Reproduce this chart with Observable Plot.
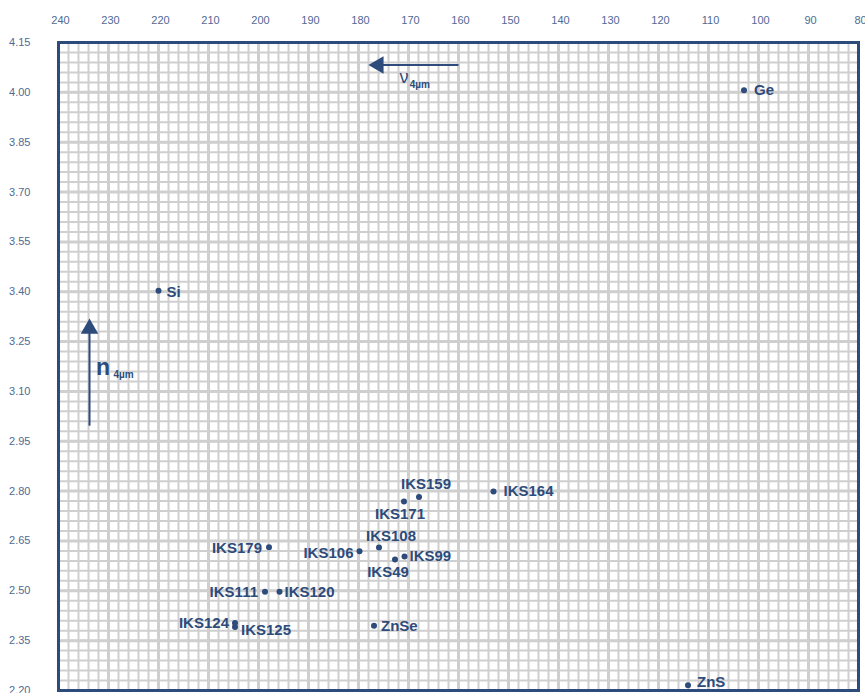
<!DOCTYPE html>
<html><head><meta charset="utf-8">
<script src="https://cdn.jsdelivr.net/npm/d3@7"></script>
<script src="https://cdn.jsdelivr.net/npm/@observablehq/plot@0.6"></script>
<style>body{margin:0;background:#fff}#chart svg{overflow:visible}</style>
</head><body><div id="chart"></div>
<script>
// ---- data ----
const materials = ["Ge","Si","ZnS","ZnSe","IKS159","IKS171","IKS164","IKS108","IKS106","IKS179","IKS49","IKS99","IKS111","IKS120","IKS124","IKS125"];
const abbe      = [102.9, 220.0, 114.1, 176.9, 167.9, 170.9, 153.0, 175.9, 179.8, 197.9, 172.7, 170.8, 198.7, 195.8, 204.7, 204.7];
const index4um  = [4.006, 3.403, 2.216, 2.395, 2.782, 2.769, 2.799, 2.630, 2.619, 2.631, 2.594, 2.603, 2.497, 2.497, 2.403, 2.391];
const xTicks = [240,230,220,210,200,190,180,170,160,150,140,130,120,110,100,90,80];
const yTicks = [2.20,2.35,2.50,2.65,2.80,2.95,3.10,3.25,3.40,3.55,3.70,3.85,4.00,4.15];
// arrows (data units)
const nuArrow = {x1: 160, x2: 177, y: 4.082, head: 176};
const nArrow  = {x: 233.8, y1: 2.997, y2: 3.30, head: 3.289};
const axisLabels = [
  {text: "ν", x: 171.8, y: 4.046, size: 18, weight: "normal"},
  {text: "4µm", x: 169.74, y: 4.024, size: 10, weight: "bold"},
  {text: "n", x: 232.5, y: 3.172, size: 23, weight: "bold"},
  {text: "4µm", x: 229.0, y: 3.149, size: 10, weight: "bold"}
];

// ---- label placement (style) ----
const placement = {
  Ge:{a:"start",dx:10,dy:0}, Si:{a:"start",dx:8,dy:1}, ZnS:{a:"start",dx:9,dy:-3},
  ZnSe:{a:"start",dx:7,dy:0}, IKS159:{a:"start",dx:-18,dy:-13}, IKS171:{a:"middle",dx:-4,dy:13},
  IKS164:{a:"start",dx:10,dy:0}, IKS108:{a:"middle",dx:12,dy:-11}, IKS106:{a:"end",dx:-6,dy:2},
  IKS179:{a:"end",dx:-7,dy:1}, IKS49:{a:"middle",dx:-7,dy:13}, IKS99:{a:"start",dx:5,dy:0},
  IKS111:{a:"end",dx:-7,dy:0}, IKS120:{a:"start",dx:5,dy:0}, IKS124:{a:"end",dx:-6,dy:0},
  IKS125:{a:"start",dx:6,dy:3}
};

const points = materials.map((m, i) => ({name: m, nu: abbe[i], n: index4um[i]}));
const dark = "#2d4b7b";
const tickColor = "#4f6a94";
const gridColor = "#cfcfcf";

const minorX = d3.range(80, 241, 2);
const minorY = d3.range(0, 66).map(i => +(2.2 + i * 0.03).toFixed(2));

const labelMarks = points.map(p => {
  const pl = placement[p.name];
  return Plot.text([p], {x: "nu", y: "n", text: "name", textAnchor: pl.a, dx: pl.dx, dy: pl.dy,
    fill: dark, fontSize: 15, fontWeight: "bold", fontFamily: "Liberation Sans, Arial, sans-serif"});
});

const chart = Plot.plot({
  width: 865, height: 693,
  marginTop: 42, marginLeft: 58, marginRight: 7, marginBottom: 3,
  style: {fontFamily: "Liberation Sans, Arial, sans-serif", background: "#fff"},
  x: {domain: [240, 80], label: null},
  y: {domain: [2.2, 4.15], label: null},
  marks: [
    Plot.ruleX(minorX, {stroke: gridColor, strokeWidth: 2}),
    Plot.ruleY(minorY, {stroke: gridColor, strokeWidth: 2}),
    Plot.ruleX(xTicks, {stroke: gridColor, strokeWidth: 3}),
    Plot.ruleY(yTicks, {stroke: gridColor, strokeWidth: 3}),
    Plot.frame({stroke: dark, strokeWidth: 3}),
    Plot.axisX({anchor: "top", ticks: xTicks, tickSize: 0, tickPadding: 19, dx: 2, fontSize: 11, color: tickColor, label: null}),
    Plot.axisY({anchor: "left", ticks: yTicks, tickSize: 0, tickPadding: 28, tickFormat: ".2f", fontSize: 11, color: tickColor, label: null}),
    // arrows
    Plot.link([nuArrow], {x1: "x1", x2: "x2", y1: "y", y2: "y", stroke: dark, strokeWidth: 2}),
    Plot.dot([nuArrow], {x: "head", y: "y", symbol: "triangle", r: 6.5, fill: dark, stroke: "none", rotate: -90}),
    Plot.link([nArrow], {x1: "x", x2: "x", y1: "y1", y2: "y2", stroke: dark, strokeWidth: 2}),
    Plot.dot([nArrow], {x: "x", y: "head", symbol: "triangle", r: 6.5, fill: dark, stroke: "none"}),
    ...axisLabels.map(l => Plot.text([l], {x: "x", y: "y", text: "text", textAnchor: "start", fill: dark,
      fontSize: l.size, fontWeight: l.weight})),
    // data
    Plot.dot(points, {x: "nu", y: "n", r: 3, fill: dark, stroke: "none"}),
    ...labelMarks
  ]
});
document.getElementById("chart").append(chart);
</script></body></html>
